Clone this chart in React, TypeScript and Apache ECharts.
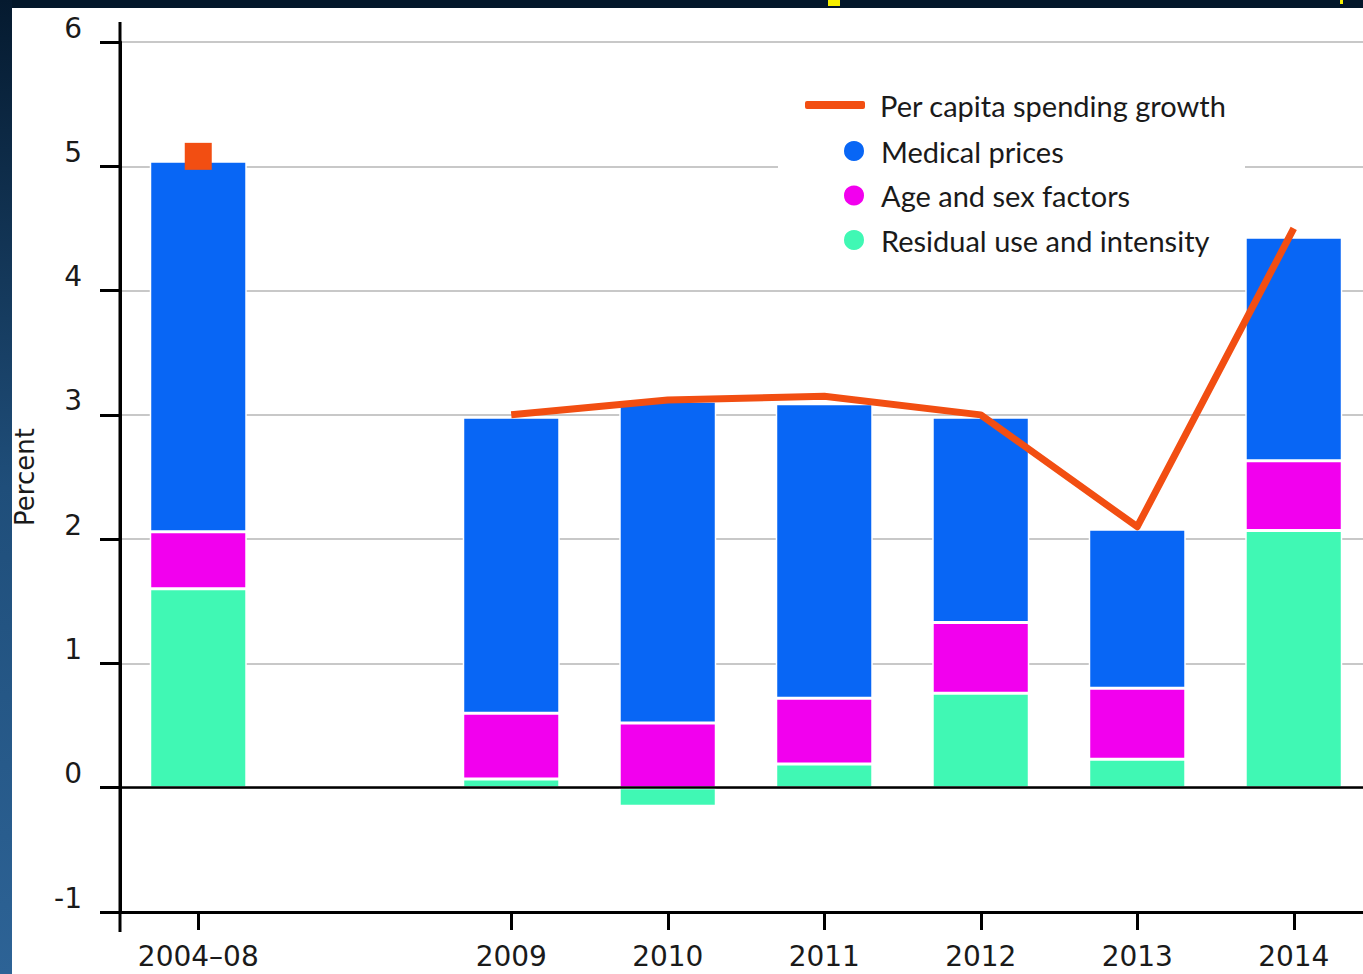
import React, { useEffect, useRef } from 'react';
import * as echarts from 'echarts';

const categories = ['2004–08', '', '2009', '2010', '2011', '2012', '2013', '2014'];
const residualUse = [1.6, '-', 0.07, -0.15, 0.19, 0.76, 0.23, 2.07];
const ageSex = [0.46, '-', 0.53, 0.52, 0.53, 0.57, 0.57, 0.56];
const medicalPrices = [2.98, '-', 2.38, 2.59, 2.37, 1.65, 1.28, 1.8];
const perCapita = [5.08, '-', 3.0, 3.12, 3.15, 3.0, 2.1, 4.5];
const yTicks = { min: -1, max: 6, interval: 1 };

const C_MED = '#0866F5';
const C_AGE = '#F200EE';
const C_RES = '#40F8B4';
const C_LINE = '#F24E12';
const TXT = '#1a1a1a';

const GRID = { left: 120, top: 42, width: 1252, height: 870 };

export default function App() {
  const ref = useRef<HTMLDivElement>(null);
  useEffect(() => {
    const chart = echarts.init(ref.current!, undefined, { renderer: 'svg' });
    const barStyle = (color: string) => ({ color, borderColor: '#ffffff', borderWidth: 1.5 });
    const option: any = {
      animation: false,
      backgroundColor: '#ffffff',
      grid: { ...GRID, containLabel: false, outerBoundsMode: 'none' },
      legend: [
        {
          data: [{ name: 'Per capita spending growth', icon: 'roundRect' }],
          left: 805,
          top: 88,
          padding: 0,
          itemWidth: 60,
          itemHeight: 8,
          textStyle: { fontFamily: 'Lato', fontSize: 29, color: TXT, lineHeight: 34, padding: [0, 0, 0, 10] },
        },
        {
          data: ['Medical prices', 'Age and sex factors', 'Residual use and intensity'],
          orient: 'vertical',
          left: 842,
          top: 134,
          padding: 0,
          itemGap: 10.5,
          icon: 'circle',
          itemWidth: 22,
          itemHeight: 22,
          textStyle: { fontFamily: 'Lato', fontSize: 29, color: TXT, lineHeight: 34, padding: [0, 0, 0, 11] },
        },
      ],
      xAxis: {
        type: 'category',
        data: categories,
        boundaryGap: true,
        position: 'bottom',
        axisLine: { show: true, onZero: false, lineStyle: { color: '#000', width: 3 } },
        axisTick: {
          show: true,
          alignWithLabel: true,
          length: 18,
          interval: (i: number, v: string) => v !== '',
          lineStyle: { color: '#000', width: 3 },
        },
        axisLabel: { fontFamily: 'DejaVu Sans', fontSize: 28, color: TXT, margin: 29, interval: 0, lineHeight: 30 },
        splitLine: { show: false },
      },
      yAxis: {
        type: 'value',
        min: yTicks.min,
        max: yTicks.max,
        interval: yTicks.interval,
        name: 'Percent',
        nameLocation: 'middle',
        nameRotate: 90,
        nameGap: 82,
        nameTextStyle: { fontFamily: 'DejaVu Sans', fontSize: 26, color: TXT },
        axisLine: { show: true, lineStyle: { color: '#000', width: 3 } },
        axisTick: { show: true, length: 20, lineStyle: { color: '#000', width: 3 } },
        axisLabel: { fontFamily: 'DejaVu Sans', fontSize: 28, color: TXT, margin: 38, verticalAlign: 'bottom' },
        splitLine: { show: true, lineStyle: { color: '#c8c8c8', width: 2 } },
      },
      series: [
        {
          name: 'Residual use and intensity',
          type: 'bar',
          stack: 'total',
          barWidth: '62%',
          itemStyle: barStyle(C_RES),
          data: residualUse,
          z: 2,
        },
        {
          name: 'Age and sex factors',
          type: 'bar',
          stack: 'total',
          barWidth: '62%',
          itemStyle: barStyle(C_AGE),
          data: ageSex,
          z: 2,
        },
        {
          name: 'Medical prices',
          type: 'bar',
          stack: 'total',
          barWidth: '62%',
          itemStyle: barStyle(C_MED),
          data: medicalPrices,
          z: 2,
        },
        {
          name: 'Per capita spending growth',
          type: 'line',
          z: 4,
          symbol: 'none',
          showSymbol: true,
          connectNulls: false,
          lineStyle: { color: C_LINE, width: 7, join: 'round' },
          itemStyle: { color: C_LINE },
          data: perCapita.map((v, i) =>
            i === 0 ? { value: v, symbol: 'rect', symbolSize: 27 } : v
          ),
          markLine: {
            silent: true,
            symbol: 'none',
            label: { show: false },
            lineStyle: { color: '#000', width: 2.5, type: 'solid' },
            data: [{ yAxis: 0 }],
          },
        },
      ],
      graphic: [
        {
          id: 'legendBg',
          type: 'rect',
          z: 1,
          silent: true,
          shape: { x: 778, y: 76, width: 467, height: 192 },
          style: { fill: '#ffffff' },
        },
        {
          id: 'axisExt',
          type: 'line',
          z: 5,
          silent: true,
          shape: { x1: GRID.left, y1: GRID.top - 20, x2: GRID.left, y2: GRID.top + GRID.height + 20 },
          style: { stroke: '#000', lineWidth: 3 },
        },
        {
          id: 'topBand',
          type: 'rect',
          z: 100,
          silent: true,
          shape: { x: 0, y: 0, width: 1363, height: 8 },
          style: { fill: '#03172a' },
        },
        {
          id: 'leftStrip',
          type: 'rect',
          z: 100,
          silent: true,
          shape: { x: 0, y: 0, width: 12, height: 974 },
          style: {
            fill: new echarts.graphic.LinearGradient(0, 0, 0, 1, [
              { offset: 0, color: '#051a2f' },
              { offset: 0.5, color: '#1f4e7a' },
              { offset: 1, color: '#2d6396' },
            ]),
          },
        },
        {
          id: 'yellowMark',
          type: 'rect',
          z: 101,
          silent: true,
          shape: { x: 828, y: 0, width: 12, height: 6 },
          style: { fill: '#f5ef00' },
        },
        {
          id: 'yellowMark2',
          type: 'rect',
          z: 101,
          silent: true,
          shape: { x: 1340, y: 0, width: 3, height: 4 },
          style: { fill: '#f5ef00' },
        },
      ],
    };
    chart.setOption(option);
    return () => chart.dispose();
  }, []);
  return (
    <div
      ref={ref}
      style={{ position: 'absolute', left: 0, top: 0, width: 1363, height: 974 }}
    />
  );
}
